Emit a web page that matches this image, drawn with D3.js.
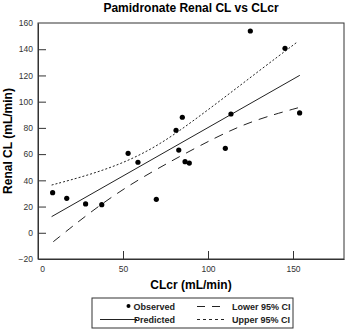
<!DOCTYPE html>
<html>
<head>
<meta charset="utf-8">
<script src="https://cdn.jsdelivr.net/npm/d3@7"></script>
<style>
  body { margin: 0; background: #fff; }
  svg { font-family: "Liberation Sans", Arial, Helvetica, sans-serif; }
  .tick text { fill: #333; font-size: 8.5px; }
</style>
</head>
<body>
<div id="chart"></div>
<script>
// observed points (CLcr, renal CL)
const clcr = [8.6, 16.9, 28, 37.5, 53, 58.8, 69.6, 81.2, 82.8, 84.9, 86.5, 89, 110.2, 113.5, 124.9, 145.3, 153.9]
const renalCl = [30.6, 26.3, 22, 21.4, 60.6, 53.8, 25.5, 78.2, 63.1, 88.1, 54.2, 53.2, 64.4, 90.6, 153.9, 140.7, 91.4]

// fitted line and confidence bands
const predX = [8, 154]
const predY = [12.3, 120.1]
const upperX = [8, 30, 52, 72, 91, 111, 131, 152]
const upperY = [36.4, 44, 54, 67.5, 85, 104.5, 124.5, 145]
const lowerX = [9, 31, 52, 74, 105, 127, 154]
const lowerY = [-6.8, 16.1, 35.1, 51.7, 73.3, 86, 95.7]

const xTicks = [0, 50, 100, 150]
const yTicks = [-20, 0, 20, 40, 60, 80, 100, 120, 140, 160]

const W = 347, H = 331
const m = {left: 38, right: 344, top: 23, bottom: 259}

const svg = d3.select('#chart').append('svg')
    .attr('width', W).attr('height', H)

const x = d3.scaleLinear().domain([0, 180]).range([m.left, m.right])
const y = d3.scaleLinear().domain([-20, 160]).range([m.bottom, m.top])

// frame
svg.append('rect')
    .attr('x', m.left).attr('y', m.top)
    .attr('width', m.right - m.left).attr('height', m.bottom - m.top)
    .attr('fill', 'none').attr('stroke', '#333').attr('stroke-width', 1)

// axes, ticks point inwards
const xAxis = svg.append('g')
    .attr('transform', `translate(0,${m.bottom})`)
    .call(d3.axisBottom(x).tickValues(xTicks).tickSizeInner(-8).tickSizeOuter(0).tickPadding(7))
xAxis.select('.domain').attr('stroke', '#333')
xAxis.selectAll('.tick line').attr('stroke', '#333')
xAxis.selectAll('.tick').filter(d => d === 0).select('line').remove()
xAxis.selectAll('.tick').filter(d => d === 0).select('text').attr('dx', 4)

const yAxis = svg.append('g')
    .attr('transform', `translate(${m.left},0)`)
    .call(d3.axisLeft(y).tickValues(yTicks).tickSizeInner(-8).tickSizeOuter(0).tickPadding(5))
yAxis.select('.domain').attr('stroke', '#333')
yAxis.selectAll('.tick line').attr('stroke', '#333')
yAxis.selectAll('.tick').filter(d => d === -20 || d === 160).select('line').remove()

// lines
const line = d3.line().x(d => x(d[0])).y(d => y(d[1])).curve(d3.curveBasis)

svg.append('path')
    .datum(d3.zip(predX, predY))
    .attr('d', line)
    .attr('fill', 'none').attr('stroke', '#222').attr('stroke-width', 1)

svg.append('path')
    .datum(d3.zip(upperX, upperY))
    .attr('d', line)
    .attr('fill', 'none').attr('stroke', '#222').attr('stroke-width', 1)
    .attr('stroke-dasharray', '2,2')

svg.append('path')
    .datum(d3.zip(lowerX, lowerY))
    .attr('d', line)
    .attr('fill', 'none').attr('stroke', '#222').attr('stroke-width', 1)
    .attr('stroke-dasharray', '9,7')

// points
svg.append('g').selectAll('circle')
    .data(d3.zip(clcr, renalCl))
    .join('circle')
    .attr('cx', d => x(d[0]))
    .attr('cy', d => y(d[1]))
    .attr('r', 2.6)
    .attr('fill', '#000')

// titles
svg.append('text')
    .attr('x', (m.left + m.right) / 2).attr('y', 12)
    .attr('text-anchor', 'middle')
    .attr('font-size', 12).attr('font-weight', 'bold')
    .text('Pamidronate Renal CL vs CLcr')

svg.append('text')
    .attr('x', (m.left + m.right) / 2).attr('y', 289)
    .attr('text-anchor', 'middle')
    .attr('font-size', 12).attr('font-weight', 'bold')
    .text('CLcr (mL/min)')

svg.append('text')
    .attr('transform', `translate(12,${(m.top + m.bottom) / 2}) rotate(-90)`)
    .attr('text-anchor', 'middle')
    .attr('font-size', 12).attr('font-weight', 'bold')
    .text('Renal CL (mL/min)')

// legend
const lg = svg.append('g')
lg.append('rect')
    .attr('x', 92).attr('y', 298).attr('width', 201).attr('height', 30)
    .attr('fill', 'none').attr('stroke', '#333').attr('stroke-width', 1)

const r1 = 306.5, r2 = 319.5
lg.append('circle').attr('cx', 128.5).attr('cy', r1 - 0.5).attr('r', 2).attr('fill', '#000')
lg.append('line').attr('x1', 100).attr('x2', 137).attr('y1', r2).attr('y2', r2)
    .attr('stroke', '#222')
lg.append('line').attr('x1', 197).attr('x2', 227).attr('y1', r1).attr('y2', r1)
    .attr('stroke', '#222').attr('stroke-dasharray', '8,7')
lg.append('line').attr('x1', 197).attr('x2', 227).attr('y1', r2).attr('y2', r2)
    .attr('stroke', '#222').attr('stroke-dasharray', '3,3')

const legendText = [
  {t: 'Observed', x: 175, y: r1, a: 'end'},
  {t: 'Predicted', x: 175, y: r2, a: 'end'},
  {t: 'Lower 95% CI', x: 232, y: r1, a: 'start'},
  {t: 'Upper 95% CI', x: 232, y: r2, a: 'start'},
]
lg.selectAll('text.leg')
    .data(legendText)
    .join('text')
    .attr('class', 'leg')
    .attr('x', d => d.x).attr('y', d => d.y)
    .attr('dy', '0.35em')
    .attr('text-anchor', d => d.a)
    .attr('font-size', 9).attr('font-weight', 'bold')
    .attr('fill', '#222')
    .text(d => d.t)
</script>
</body>
</html>
